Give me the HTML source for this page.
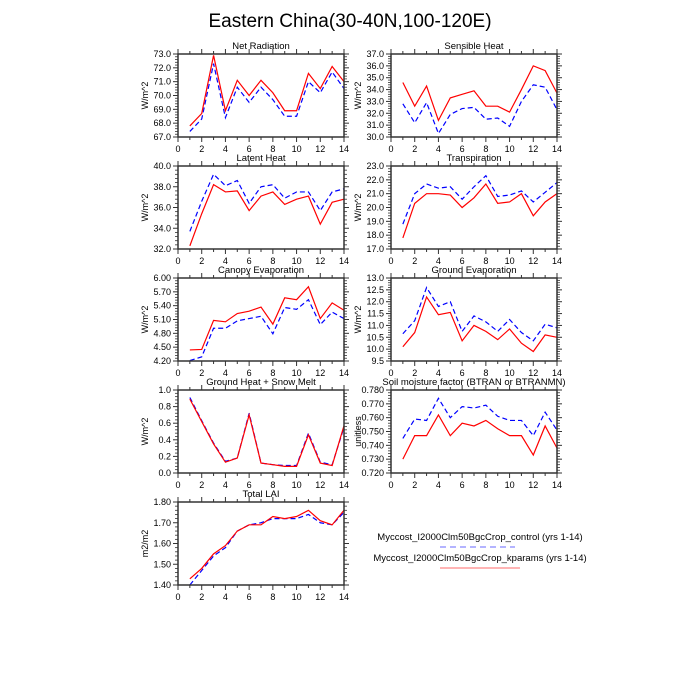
<!DOCTYPE html>
<html><head><meta charset="utf-8"><style>
body{margin:0;background:#fff;}
svg{display:block;font-family:"Liberation Sans",sans-serif;}
</style></head><body>
<svg id="fig" width="700" height="700" viewBox="0 0 700 700">
<text x="350" y="27" text-anchor="middle" font-size="19">Eastern China(30-40N,100-120E)</text>
<g>
<text x="480" y="540" text-anchor="middle" font-size="9.5">Myccost_I2000Clm50BgcCrop_control (yrs 1-14)</text>
<line x1="440" y1="547" x2="515" y2="547" stroke="#8888ff" stroke-width="1.2" stroke-dasharray="6,4"/>
<text x="480" y="561" text-anchor="middle" font-size="9.5">Myccost_I2000Clm50BgcCrop_kparams (yrs 1-14)</text>
<line x1="440" y1="568" x2="520" y2="568" stroke="#ff8888" stroke-width="1.2"/>
</g>
</svg>
<script>
const years=[1,2,3,4,5,6,7,8,9,10,11,12,13,14];
const xTicks=[0,2,4,6,8,10,12,14];
const netRadRed=[67.8,68.7,72.9,68.9,71.1,70.0,71.1,70.2,68.9,68.9,71.6,70.5,72.1,71.0];
const netRadBlue=[67.4,68.3,72.3,68.4,70.6,69.5,70.6,69.7,68.5,68.5,71.0,70.2,71.7,70.5];
const netRadTicks=[67,68,69,70,71,72,73];
const shRed=[34.6,32.6,34.3,31.4,33.3,33.6,33.9,32.6,32.6,32.1,34.0,36.0,35.6,33.7];
const shBlue=[32.8,31.2,32.9,30.3,31.9,32.4,32.5,31.5,31.6,30.9,33.0,34.4,34.2,32.3];
const shTicks=[30,31,32,33,34,35,36,37];
const lhRed=[32.3,35.4,38.2,37.5,37.6,35.7,37.1,37.5,36.3,36.8,37.1,34.4,36.5,36.8];
const lhBlue=[33.7,36.6,39.2,38.1,38.6,36.4,38.0,38.2,36.9,37.5,37.5,35.7,37.5,37.8];
const lhTicks=[32,34,36,38,40];
const trRed=[17.8,20.3,21.0,21.0,20.9,20.0,20.7,21.7,20.3,20.4,21.0,19.4,20.4,21.0];
const trBlue=[18.8,21.0,21.7,21.4,21.5,20.6,21.5,22.3,20.8,20.9,21.2,20.4,21.1,21.8];
const trTicks=[17,18,19,20,21,22,23];
const ceRed=[4.44,4.45,5.08,5.05,5.23,5.28,5.37,5.00,5.57,5.53,5.81,5.12,5.46,5.30];
const ceBlue=[4.21,4.29,4.91,4.91,5.07,5.12,5.17,4.79,5.36,5.32,5.53,4.99,5.26,5.12];
const ceTicks=[4.2,4.5,4.8,5.1,5.4,5.7,6.0];
const geRed=[10.1,10.7,12.2,11.45,11.55,10.35,11.0,10.75,10.4,10.85,10.25,9.9,10.6,10.5];
const geBlue=[10.65,11.2,12.6,11.8,12.0,10.75,11.4,11.15,10.75,11.25,10.7,10.35,11.05,10.9];
const geTicks=[9.5,10,10.5,11,11.5,12,12.5,13];
const ghRed=[0.89,0.62,0.35,0.13,0.18,0.70,0.12,0.10,0.08,0.08,0.46,0.12,0.09,0.57];
const ghBlue=[0.91,0.63,0.36,0.14,0.18,0.72,0.12,0.10,0.09,0.09,0.48,0.13,0.10,0.55];
const ghTicks=[0,0.2,0.4,0.6,0.8,1.0];
const btRed=[0.730,0.747,0.747,0.762,0.747,0.756,0.754,0.758,0.752,0.747,0.747,0.733,0.754,0.738];
const btBlue=[0.745,0.759,0.758,0.774,0.760,0.768,0.767,0.769,0.761,0.758,0.758,0.747,0.764,0.751];
const btTicks=[0.72,0.73,0.74,0.75,0.76,0.77,0.78];
const laiRed=[1.43,1.48,1.55,1.59,1.66,1.69,1.69,1.73,1.72,1.73,1.76,1.71,1.69,1.76];
const laiBlue=[1.40,1.47,1.54,1.58,1.66,1.69,1.70,1.72,1.72,1.72,1.74,1.70,1.69,1.75];
const laiTicks=[1.4,1.5,1.6,1.7,1.8];

const NS='http://www.w3.org/2000/svg';
const svg=document.getElementById('fig');
function mk(tag,attrs,parent){const e=document.createElementNS(NS,tag);for(const k in attrs)e.setAttribute(k,attrs[k]);parent.appendChild(e);return e;}

const cols=[178,391], W=166, rows=[54,166,278,390,502], H=83;
const panels=[
 {c:0,r:0,title:'Net Radiation',yl:'W/m^2',red:netRadRed,blue:netRadBlue,ticks:netRadTicks,dec:1,name:'net-radiation'},
 {c:1,r:0,title:'Sensible Heat',yl:'W/m^2',red:shRed,blue:shBlue,ticks:shTicks,dec:1,name:'sensible-heat'},
 {c:0,r:1,title:'Latent Heat',yl:'W/m^2',red:lhRed,blue:lhBlue,ticks:lhTicks,dec:1,name:'latent-heat'},
 {c:1,r:1,title:'Transpiration',yl:'W/m^2',red:trRed,blue:trBlue,ticks:trTicks,dec:1,name:'transpiration'},
 {c:0,r:2,title:'Canopy Evaporation',yl:'W/m^2',red:ceRed,blue:ceBlue,ticks:ceTicks,dec:2,name:'canopy-evaporation'},
 {c:1,r:2,title:'Ground Evaporation',yl:'W/m^2',red:geRed,blue:geBlue,ticks:geTicks,dec:1,name:'ground-evaporation'},
 {c:0,r:3,title:'Ground Heat + Snow Melt',yl:'W/m^2',red:ghRed,blue:ghBlue,ticks:ghTicks,dec:1,name:'ground-heat'},
 {c:1,r:3,title:'Soil moisture factor (BTRAN or BTRANMN)',yl:'unitless',red:btRed,blue:btBlue,ticks:btTicks,dec:3,name:'soil-moisture'},
 {c:0,r:4,title:'Total LAI',yl:'m2/m2',red:laiRed,blue:laiBlue,ticks:laiTicks,dec:2,name:'total-lai'}
];
panels.forEach(p=>{
 const x0=cols[p.c], y0=rows[p.r];
 const g=mk('g',{},svg);
 
 
 const ymin=p.ticks[0], ymax=p.ticks[p.ticks.length-1];
 const sx=v=>x0+(v-0)/14*W;
 const sy=v=>y0+H-(v-ymin)/(ymax-ymin)*H;
 for(let v=0;v<=14;v++){
  const major=v%2===0, L=major?5:3, x=sx(v);
  mk('line',{x1:x,y1:y0+H,x2:x,y2:y0+H+L,stroke:'#333','stroke-width':1},g);
  mk('line',{x1:x,y1:y0,x2:x,y2:y0-L,stroke:'#333','stroke-width':1},g);
 }
 xTicks.forEach(v=>{
  const t=mk('text',{x:sx(v),y:y0+H+15,'text-anchor':'middle','font-size':9},g);
  t.textContent=v;
  
  
 });
 const step=p.ticks[1]-p.ticks[0];
 for(let i=0;i<p.ticks.length;i++){
  const v=p.ticks[i], y=sy(v);
  mk('line',{x1:x0,y1:y,x2:x0-5,y2:y,stroke:'#333','stroke-width':1},g);
  mk('line',{x1:x0+W,y1:y,x2:x0+W+5,y2:y,stroke:'#333','stroke-width':1},g);
  const t=mk('text',{x:x0-7,y:y+3,'text-anchor':'end','font-size':9},g);
  t.textContent=v.toFixed(p.dec);
  
  
  if(i<p.ticks.length-1){
   for(let k=1;k<5;k++){const ym=sy(v+step*k/5);
    mk('line',{x1:x0,y1:ym,x2:x0-3,y2:ym,stroke:'#333','stroke-width':0.8},g);
    mk('line',{x1:x0+W,y1:ym,x2:x0+W+3,y2:ym,stroke:'#333','stroke-width':0.8},g);}
  }
 }
 const ttl=mk('text',{x:x0+W/2,y:y0-5,'text-anchor':'middle','font-size':9.5},g);
 ttl.textContent=p.title;
 
 
 const yl=mk('text',{x:0,y:0,'text-anchor':'middle','font-size':9,transform:`translate(${x0-30},${y0+H/2}) rotate(-90)`},g);
 yl.textContent=p.yl;
 
 
 const ptsB=years.map((v,i)=>sx(v)+','+sy(p.blue[i])).join(' ');
 const ptsR=years.map((v,i)=>sx(v)+','+sy(p.red[i])).join(' ');
 const lb=mk('polyline',{points:ptsB,fill:'none',stroke:'#0000ff','stroke-width':1.2,'stroke-dasharray':'5,3'},g);
 
 
 const lr=mk('polyline',{points:ptsR,fill:'none',stroke:'#ff0000','stroke-width':1.2},g);
 
 
 const fr=mk('rect',{x:x0,y:y0,width:W,height:H,fill:'none',stroke:'#333','stroke-width':1.5},g);
 
 
});
</script>
</body></html>
